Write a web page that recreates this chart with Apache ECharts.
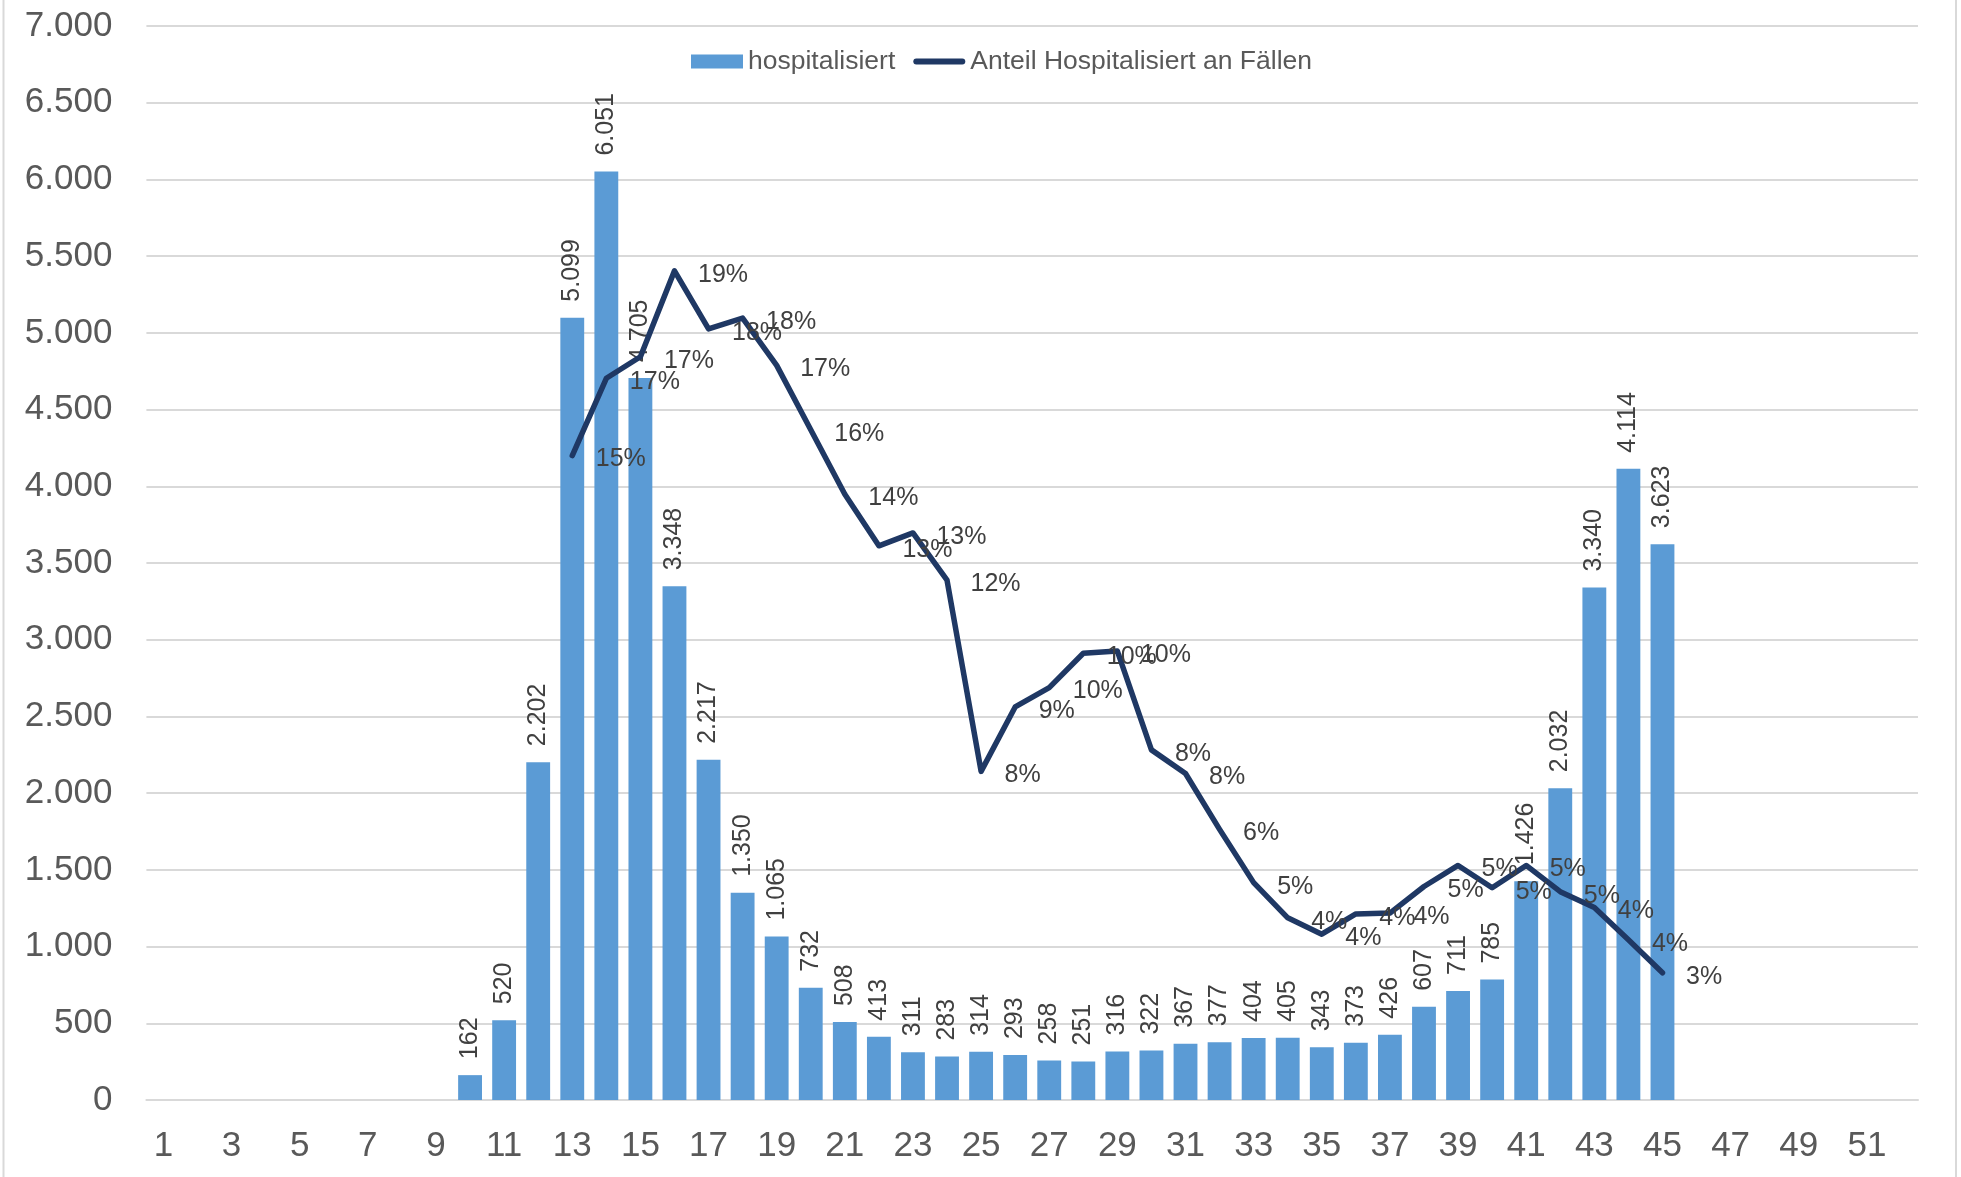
<!DOCTYPE html>
<html>
<head>
<meta charset="utf-8">
<script src="https://cdn.jsdelivr.net/npm/echarts@6/dist/echarts.min.js"></script>
<style>
html,body{margin:0;padding:0;background:#fff;}
#chart{width:1961px;height:1177px;}
</style>
</head>
<body>
<div id="chart"></div>
<script>
// Kalenderwochen 1..52
const weeks = Array.from({length: 52}, (_, i) => String(i + 1));

// hospitalisiert (weeks 10..45)
const hospFirstWeek = 10;
const hospValues = [162, 520, 2202, 5099, 6051, 4705, 3348, 2217, 1350, 1065, 732, 508, 413, 311, 283, 314, 293, 258, 251, 316, 322, 367, 377, 404, 405, 343, 373, 426, 607, 711, 785, 1426, 2032, 3340, 4114, 3623];

// Anteil Hospitalisiert an Fällen (weeks 13..45), in percent
const shareFirstWeek = 13;
const shareValues = [15.0, 16.8, 17.3, 19.3, 17.95, 18.2, 17.1, 15.6, 14.1, 12.9, 13.2, 12.1, 7.65, 9.15, 9.6, 10.4, 10.45, 8.15, 7.6, 6.3, 5.06, 4.24, 3.86, 4.33, 4.35, 4.97, 5.46, 4.94, 5.46, 4.85, 4.48, 3.73, 2.96];

const seriesNames = ['hospitalisiert', 'Anteil Hospitalisiert an Fällen'];

function pad(arr, first) {
  const out = weeks.map(() => null);
  arr.forEach((v, i) => { out[first - 1 + i] = v; });
  return out;
}
const barData = pad(hospValues, hospFirstWeek);
const lineData = pad(shareValues.map(v => v / 100), shareFirstWeek);

function deNum(v) {
  return String(v).replace(/\B(?=(\d{3})+(?!\d))/g, '.');
}

const FONT = '"Liberation Sans", Arial, sans-serif';
const chart = echarts.init(document.getElementById('chart'));
chart.setOption({
  animation: false,
  backgroundColor: '#ffffff',
  textStyle: { fontFamily: FONT },
  graphic: [
    { type: 'line', shape: { x1: 3.5, y1: 0, x2: 3.5, y2: 1177 }, style: { stroke: '#d9d9d9', lineWidth: 2 } },
    { type: 'line', shape: { x1: 1956, y1: 0, x2: 1956, y2: 1177 }, style: { stroke: '#d9d9d9', lineWidth: 2 } }
  ],
  legend: {
    left: 686,
    top: 43,
    itemWidth: 52,
    itemHeight: 14,
    itemGap: 18,
    textStyle: { fontSize: 26.5, color: '#595959', fontFamily: FONT },
    data: [
      { name: seriesNames[0], icon: 'rect' },
      { name: seriesNames[1], icon: 'path://M3,0 L49,0 A3,3 0 0 1 49,6 L3,6 A3,3 0 0 1 3,0 Z' }
    ]
  },
  grid: { left: 146.4, right: 43, top: 26, bottom: 77, containLabel: false },
  xAxis: {
    type: 'category',
    data: weeks,
    boundaryGap: true,
    axisLine: { show: true, lineStyle: { color: '#d9d9d9', width: 2 } },
    axisTick: { show: false },
    axisLabel: { interval: 1, fontSize: 35, color: '#595959', margin: 29, fontFamily: FONT }
  },
  yAxis: [
    {
      type: 'value',
      min: 0, max: 7000, interval: 500,
      axisLine: { show: false },
      axisTick: { show: false },
      splitLine: { lineStyle: { color: '#d9d9d9', width: 2 } },
      axisLabel: { fontSize: 35, color: '#595959', margin: 34, fontFamily: FONT, formatter: v => deNum(v) }
    },
    {
      type: 'value',
      min: 0, max: 0.25,
      show: false,
      splitLine: { show: false }
    }
  ],
  series: [
    {
      name: seriesNames[0],
      type: 'bar',
      data: barData,
      barCategoryGap: '30%',
      itemStyle: { color: '#5b9bd5' },
      label: {
        show: true,
        position: 'top',
        rotate: 90,
        align: 'left',
        verticalAlign: 'middle',
        distance: 16,
        fontSize: 25,
        color: '#404040',
        fontFamily: FONT,
        formatter: p => deNum(p.value)
      }
    },
    {
      name: seriesNames[1],
      type: 'line',
      yAxisIndex: 1,
      data: lineData,
      symbol: 'circle',
      symbolSize: 1,
      showSymbol: true,
      connectNulls: false,
      lineStyle: { color: '#1f3864', width: 5.5, cap: 'round', join: 'round' },
      itemStyle: { color: '#1f3864' },
      label: {
        show: true,
        position: 'right',
        distance: 23,
        offset: [0, 4],
        fontSize: 25,
        color: '#404040',
        fontFamily: FONT,
        formatter: p => Math.round(p.value * 100) + '%'
      },
      z: 5
    }
  ]
});
</script>
</body>
</html>
